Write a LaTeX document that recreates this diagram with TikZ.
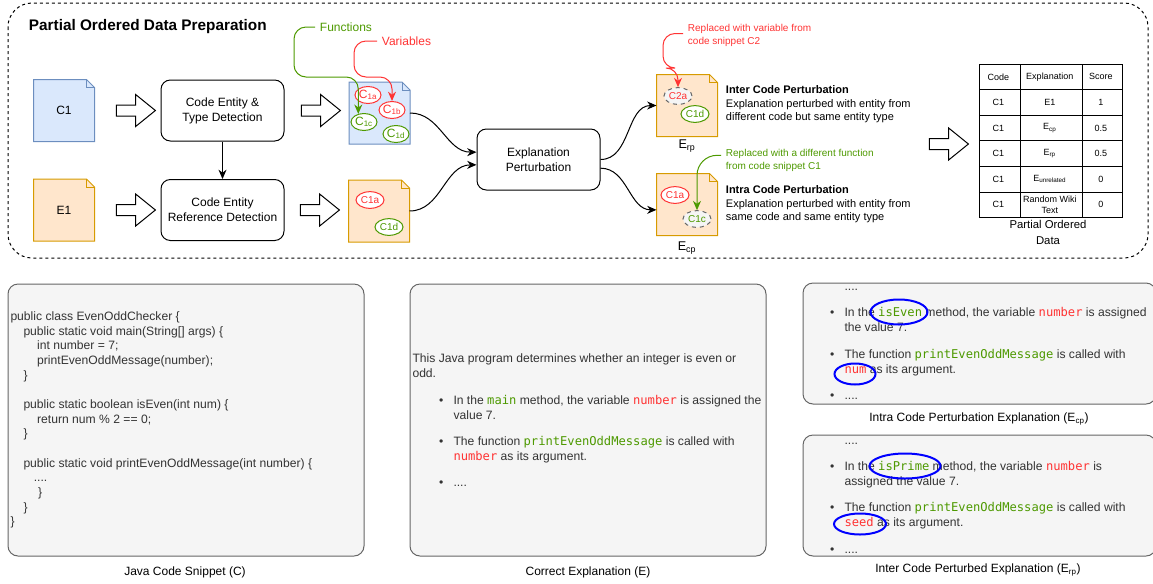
\documentclass[tikz,border=0pt]{standalone}
\usepackage{fontspec}
\setmainfont{Liberation Sans}
\newfontfamily\codefont{DejaVu Sans Mono}
\usetikzlibrary{arrows.meta,shapes.geometric,shapes.arrows,matrix}
\definecolor{docblue}{HTML}{DAE8FC}
\definecolor{docbluedraw}{HTML}{6C8EBF}
\definecolor{docorange}{HTML}{FFE6CC}
\definecolor{docorangedraw}{HTML}{D79B00}
\definecolor{entred}{HTML}{FF3333}
\definecolor{entgreen}{HTML}{4D9900}
\definecolor{panelfill}{HTML}{F5F5F5}
\definecolor{paneldraw}{HTML}{666666}
\definecolor{paneltext}{HTML}{333333}
\definecolor{markblue}{HTML}{0000FF}
\newcommand{\codefn}[1]{\textcolor{entgreen}{\codefont #1}}
\newcommand{\codevar}[1]{\textcolor{entred}{\codefont #1}}
\newcommand{\itembul}{\hspace*{20pt}\makebox[10.75pt][l]{\textbullet}}
\newcommand{\itemcont}{\hspace*{30.75pt}}
\newcommand{\notedoc}[4]{%
  \node[minimum width=45pt,minimum height=45.75pt,inner sep=0pt] (#1) at (#2) {};
  \filldraw[fill=#3,draw=#4] (#1.south west) -- (#1.north west) -- ([xshift=-6pt]#1.north east) -- ([yshift=-6pt]#1.north east) -- (#1.south east) -- cycle;
  \draw[#4] ([xshift=-6pt]#1.north east) -- ([xshift=-6pt,yshift=-6pt]#1.north east) -- ([yshift=-6pt]#1.north east);}
\tikzset{
  procbox/.style={draw,rounded corners=7pt,minimum width=92.25pt,minimum height=45.75pt,align=center,font=\fontsize{9}{11.25}\selectfont},
  hollowarrow/.style={single arrow,draw,fill=white,inner sep=3.75pt,minimum height=29.25pt,single arrow head extend=7.9pt,single arrow tip angle=78},
  flow/.style={-{Stealth[length=7pt,width=6pt]}},
  entity/.style={ellipse,draw,fill=white,inner sep=0pt,minimum width=19.5pt,minimum height=12.75pt},
  entvar/.style={entity,draw=entred,text=entred},
  entfn/.style={entity,draw=entgreen,text=entgreen},
  entswap/.style={entity,draw=paneldraw,fill=panelfill,dashed},
  entsmall/.style={font=\fontsize{7.5}{8}\selectfont,minimum width=21pt,minimum height=12.5pt},
  panel/.style={draw=paneldraw,fill=panelfill,rounded corners=7.5pt},
  paneltxt/.style={anchor=west,align=left,inner sep=0pt,text=paneltext,font=\fontsize{9.1}{11.25}\selectfont},
  markring/.style={ellipse,draw=markblue,line width=1.5pt,inner sep=0pt},
  smalltext/.style={anchor=west,align=left,font=\fontsize{7.5}{9.75}\selectfont},
  desc/.style={anchor=west,align=left,font=\fontsize{8.25}{10.1}\selectfont}
}
\begin{document}
\begin{tikzpicture}[x=0.75pt,y=-0.75pt,line width=0.75pt,font=\fontsize{9}{11}\selectfont]
\clip (0,0) rectangle (1153,583);
\draw[dash pattern=on 2.25pt off 2.25pt,rounded corners=18pt] (8,3) rectangle (1148,258);
\node[anchor=west,font=\bfseries\fontsize{11.5}{13}\selectfont] (title) at (24,27) {Partial Ordered Data Preparation};
\notedoc{cdoc}{64,110.5}{docblue}{docbluedraw}
\node (cdoctxt) at (cdoc) {C1};
\notedoc{edoc}{64,210}{docorange}{docorangedraw}
\node (edoctxt) at (edoc) {E1};
\node[hollowarrow] (arrc) at (132.5,110.5) {};
\node[hollowarrow] (arre) at (132.5,210) {};
\node[procbox] (ctd) at (222.5,110.5) {Code Entity \&\\Type Detection};
\node[procbox] (crd) at (222.5,210) {Code Entity\\Reference Detection};
\draw[flow] (ctd) -- (crd);
\node[hollowarrow] (arrctd) at (317.5,110.5) {};
\node[hollowarrow] (arrcrd) at (316.5,210) {};
\notedoc{cann}{379.5,113}{docblue}{docbluedraw}
\node[entvar] (c1a) at (368,95) {C\textsubscript{1a}};
\node[entvar] (c1b) at (392,110) {C\textsubscript{1b}};
\node[entfn] (c1c) at (364,122) {C\textsubscript{1c}};
\node[entfn] (c1d) at (396,134) {C\textsubscript{1d}};
\notedoc{eann}{379,211}{docorange}{docorangedraw}
\node[entvar,entsmall] (e1a) at (370,200) {C1a};
\node[entfn,entsmall] (e1d) at (389,227) {C1d};
\node[anchor=west,text=entgreen] (fnlbl) at (315,27) {Functions};
\node[anchor=west,text=entred] (varlbl) at (377,41) {Variables};
\draw[flow,draw=entgreen,rounded corners=9pt] (fnlbl.west) -| (294,77) -| (c1c.125);
\draw[flow,draw=entred,rounded corners=9pt] (varlbl.west) -| (354,77) -| (c1b.north);
\node[procbox] (ep) at (538.5,159.5) {Explanation\\Perturbation};
\draw[flow] (cann.east) to[out=0,in=180] ([yshift=5.5pt]ep.west);
\draw[flow] (eann.east) to[out=0,in=180] ([yshift=-4pt]ep.west);
\notedoc{erpdoc}{687,105.5}{docorange}{docorangedraw}
\node[entswap,entsmall,text=entred] (c2a) at (678,96) {C2a};
\node[entfn,entsmall] (r1d) at (695,114) {C1d};
\node[font=\fontsize{9.5}{11}\selectfont] (erplbl) at (687,146) {E\textsubscript{rp}};
\notedoc{ecpdoc}{687,204.5}{docorange}{docorangedraw}
\node[entvar,entsmall] (p1a) at (675,195) {C1a};
\node[entswap,entsmall,text=entgreen] (p1c) at (697,219) {C1c};
\node[font=\fontsize{9.5}{11}\selectfont] (ecplbl) at (687,248) {E\textsubscript{cp}};
\draw[flow] (ep.east) to[out=0,in=180] (erpdoc.west);
\draw[flow] ([yshift=-6.5pt]ep.east) to[out=0,in=180] ([yshift=-4pt]ecpdoc.west);
\node[smalltext,text=entred] (rvlbl) at (683,35.5) {Replaced with variable from\\code snippet C2};
\draw[flow,draw=entred,rounded corners=9pt] ([yshift=1.5pt]rvlbl.west) -| (663,68) -| (c2a.north);
\node[smalltext,text=entgreen] (rflbl) at (721,160) {Replaced with a different function\\from code snippet C1};
\draw[flow,draw=entgreen,rounded corners=15pt] ([yshift=3.5pt]rflbl.west) -| (p1c.north);
\node[desc] (intertxt) at (721,104.5) {\textbf{Inter Code Perturbation}\\Explanation perturbed with entity from\\different code but same entity type};
\node[desc] (intratxt) at (721,204.5) {\textbf{Intra Code Perturbation}\\Explanation perturbed with entity from\\same code and same entity type};
\node[hollowarrow] (arrtbl) at (945.5,144) {};
\matrix (podtable) [matrix of nodes,anchor=north west,inner sep=0pt,row sep=-0.75pt,column sep=-0.75pt,
  nodes={draw,anchor=center,minimum height=19.2pt,align=center,inner sep=1pt,font=\fontsize{6.75}{7.5}\selectfont},
  column 1/.style={nodes={minimum width=30.75pt}},
  column 2/.style={nodes={minimum width=46.5pt}},
  column 3/.style={nodes={minimum width=30pt}}] at (978,63) {
  Code & Explanation & Score \\
  C1 & E1 & 1 \\
  C1 & E\textsubscript{cp} & 0.5 \\
  C1 & E\textsubscript{rp} & 0.5 \\
  C1 & E\textsubscript{unrelated} & 0 \\
  C1 & \shortstack{Random Wiki\\Text} & 0 \\
};
\node[align=center,font=\fontsize{8.5}{12}\selectfont] (tblcap) at (1048,232) {Partial Ordered\\Data};
\node[panel,minimum width=267pt,minimum height=204pt] (javapanel) at (186,420) {};
\node[paneltxt,font=\fontsize{9.1}{11}\selectfont] (javacode) at (10,420) {public class EvenOddChecker \{\\
\hspace*{9.75pt}public static void main(String[] args) \{\\
\hspace*{20pt}int number = 7;\\
\hspace*{20pt}printEvenOddMessage(number);\\
\hspace*{9.75pt}\}\\
\mbox{}\\
\hspace*{9.75pt}public static boolean isEven(int num) \{\\
\hspace*{20pt}return num \% 2 == 0;\\
\hspace*{9.75pt}\}\\
\mbox{}\\
\hspace*{9.75pt}public static void printEvenOddMessage(int number) \{\\
\hspace*{17.5pt}....\\
\hspace*{20.75pt}\}\\
\hspace*{9.75pt}\}\\
\}};
\node (javacap) at (185,572) {Java Code Snippet (C)};
\node[panel,minimum width=267pt,minimum height=204pt] (explpanel) at (588,420) {};
\node[paneltxt] (expltxt) at (412,420.5) {This Java program determines whether an integer is even or\\
odd.\\[8.5pt]
\itembul In the \codefn{main} method, the variable \codevar{number} is assigned the\\
\itemcont value 7.\\[8.5pt]
\itembul The function \codefn{printEvenOddMessage} is called with\\
\itemcont\codevar{number} as its argument.\\[8.5pt]
\itembul ....};
\node (explcap) at (588,572) {Correct Explanation (E)};
\node[panel,minimum width=264.75pt,minimum height=90.75pt] (intrapanel) at (979.5,343.5) {};
\node[paneltxt] (intratxtb) at (803,344.5) {\itemcont ....\\[8.5pt]
\itembul In the \codefn{isEven} method, the variable \codevar{number} is assigned\\
\itemcont the value 7.\\[8.5pt]
\itembul The function \codefn{printEvenOddMessage} is called with\\
\itemcont\codevar{num} as its argument.\\[8.5pt]
\itembul ....};
\node[markring,minimum width=42.75pt,minimum height=18.75pt] (ringeven) at (899,312) {};
\node[markring,minimum width=30.75pt,minimum height=15.75pt] (ringnum) at (855,374) {};
\node (intracap) at (979,419) {Intra Code Perturbation Explanation (E\textsubscript{cp})};
\node[panel,minimum width=264.75pt,minimum height=90.75pt] (interpanel) at (979.5,495.5) {};
\node[paneltxt] (intertxtb) at (803,498) {\itemcont ....\\[8.5pt]
\itembul In the \codefn{isPrime} method, the variable \codevar{number} is\\
\itemcont assigned the value 7.\\[8.5pt]
\itembul The function \codefn{printEvenOddMessage} is called with\\
\itemcont\codevar{seed} as its argument.\\[8.5pt]
\itembul ....};
\node[markring,minimum width=53.25pt,minimum height=18.75pt] (ringprime) at (905,466) {};
\node[markring,minimum width=39pt,minimum height=15.75pt] (ringseed) at (860,524) {};
\node (intercap) at (978,570) {Inter Code Perturbed Explanation (E\textsubscript{rp})};
\end{tikzpicture}
\end{document}
